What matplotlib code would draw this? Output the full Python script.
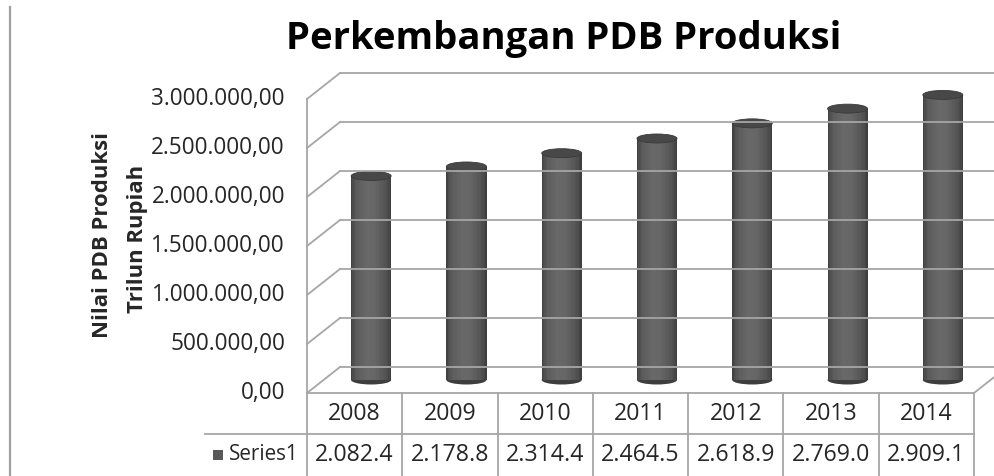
import numpy as np
import matplotlib
matplotlib.use("Agg")
import matplotlib.pyplot as plt
import matplotlib.transforms as mtransforms
from matplotlib.patches import Ellipse, Rectangle

# data
years = ["2008", "2009", "2010", "2011", "2012", "2013", "2014"]
values = [2082.4, 2178.8, 2314.4, 2464.5, 2618.9, 2769.0, 2909.1]   # tabel (ribu)
series_name = "Series1"
yticks = [0, 500000, 1000000, 1500000, 2000000, 2500000, 3000000]
title = "Perkembangan PDB Produksi"
ylabel1 = "Nilai PDB Produksi"
ylabel2 = "Trilun Rupiah"

W, H = 995, 476
plt.rcParams['font.family'] = ['Open Sans', 'DejaVu Sans']
fig = plt.figure(figsize=(W / 100, H / 100), dpi=100)

# front plane of the 3d box (pixels from top-left)
L, R, B, T = 307, 974, 393, 99
ax = fig.add_axes([L / W, 1 - B / H, (R - L) / W, (B - T) / H])
ax.set_xlim(-0.5, len(years) - 0.5)
ax.set_ylim(0, 3000000)
ax.axis("off")

dx, dy = 33, 26   # depth of the box in px
grid_c = "#a6a6a6"
back = ax.transData + mtransforms.ScaledTranslation(dx / 100, dy / 100, fig.dpi_scale_trans)
mid = ax.transData + mtransforms.ScaledTranslation(dx / 200, dy / 200, fig.dpi_scale_trans)

def px(x, y):
    return x / W, 1 - y / H

# walls / gridlines
x0, x1 = -0.5, len(years) - 0.5
for t in yticks:
    # side wall diagonal
    p0 = ax.transData.transform((x0, t))
    p1 = back.transform((x0, t))
    ax.plot([p0[0], p1[0]], [p0[1], p1[1]], color=grid_c, lw=1.3,
            transform=None, clip_on=False)
    ax.plot([x0, x1 + 1], [t, t], color=grid_c, lw=1.3, transform=back, clip_on=False)
# floor
ax.plot([x0, x1], [0, 0], color=grid_c, lw=1.3, clip_on=False)
p0 = ax.transData.transform((x1, 0))
p1 = back.transform((x1, 0))
ax.plot([p0[0], p1[0]], [p0[1], p1[1]], color=grid_c, lw=1.3, transform=None, clip_on=False)
ax.plot([x0, x0], [0, 3000000], color=grid_c, lw=1.3, clip_on=False)

# cylinders
xs = np.arange(len(years))
vals = np.array(values) * 1000
cw = 0.42
n = 30
prof_x = [0, 0.05, 0.15, 0.4, 0.6, 0.85, 0.95, 1]
prof_c = [0.24, 0.30, 0.36, 0.41, 0.40, 0.33, 0.28, 0.23]
eh = 9 * 3000000 / (B - T)
for i, v in zip(xs, vals):
    ax.add_patch(Ellipse((i, 0), cw, eh, facecolor="#3e3e3e", edgecolor="none",
                         transform=mid, clip_on=False))
    for k in range(n):
        g = np.interp((k + 0.5) / n, prof_x, prof_c)
        ax.bar(i - cw / 2 + k * cw / n, v, width=cw / n * 1.05, align="edge",
               color=(g, g, g), linewidth=0, transform=mid, clip_on=False)
    ax.add_patch(Ellipse((i, v), cw, eh, facecolor="#484848", edgecolor="#3a3a3a",
                         lw=0.6, transform=mid, clip_on=False))

# y tick labels
ytr = mtransforms.blended_transform_factory(fig.transFigure, ax.transData)
tick_texts = []
for t in yticks:
    s = f"{t:,.2f}".replace(",", "X").replace(".", ",").replace("X", ".")
    tick_texts.append(fig.text(285 / W, t, s, transform=ytr, ha="right", va="center",
                               fontsize=15, color="#262626"))

# axis label
lab1 = fig.text(*px(103, 235), ylabel1, rotation=90, ha="center", va="center",
                fontsize=15, fontweight="bold", color="#262626")
lab2 = fig.text(*px(137, 239), ylabel2, rotation=90, ha="center", va="center",
                fontsize=15, fontweight="bold", color="#262626")

# title
ttl = fig.text(*px(564, 49), title, ha="center", va="baseline",
               fontsize=28, fontweight="bold", color="black")

# data table
fig.add_artist(plt.Line2D([205 / W, R / W], [1 - 434 / H] * 2, color=grid_c, lw=1.3))
xtr = mtransforms.blended_transform_factory(ax.transData, fig.transFigure)
for k in range(len(years) + 1):
    fig.add_artist(plt.Line2D([x0 + k, x0 + k], [0, 1 - B / H], color=grid_c, lw=1.3,
                              transform=xtr))
cell_texts = []
for i, (yr, v) in enumerate(zip(years, values)):
    cell_texts.append(fig.text(i, 1 - 414 / H, yr, transform=xtr, ha="center",
                               va="center", fontsize=15, color="#262626"))
    cell_texts.append(fig.text(i, 1 - 455 / H, f"{v:,.1f}".replace(",", "."),
                               transform=xtr, ha="center", va="center", fontsize=15,
                               color="#262626"))
fig.add_artist(Rectangle(px(213, 460), 10 / W, 10 / H, facecolor="#595959",
                         edgecolor="none", transform=fig.transFigure))
ser = fig.text(*px(229, 455), series_name, ha="left", va="center", fontsize=15,
               color="#262626")

# left border of chart area
fig.add_artist(plt.Line2D([10 / W, 10 / W], [0, 1 - 7 / H], color="#a0a0a0", lw=1.6))

# fit text sizes to the measured widths
fig.canvas.draw()
r = fig.canvas.get_renderer()

def fit(t, target, vertical=False):
    bb = t.get_window_extent(r)
    size = bb.height if vertical else bb.width
    return t.get_fontsize() * target / size

ttl.set_fontsize(fit(ttl, 555))
fs = fit(tick_texts[-1], 133)
for t in tick_texts:
    t.set_fontsize(fs)
lab1.set_fontsize(fit(lab1, 206, True))
lab2.set_fontsize(lab1.get_fontsize())
fs = fit(cell_texts[1], 78)
for t in cell_texts:
    t.set_fontsize(fs)
ser.set_fontsize(fit(ser, 70))

fig.savefig("out.png", dpi=100)
